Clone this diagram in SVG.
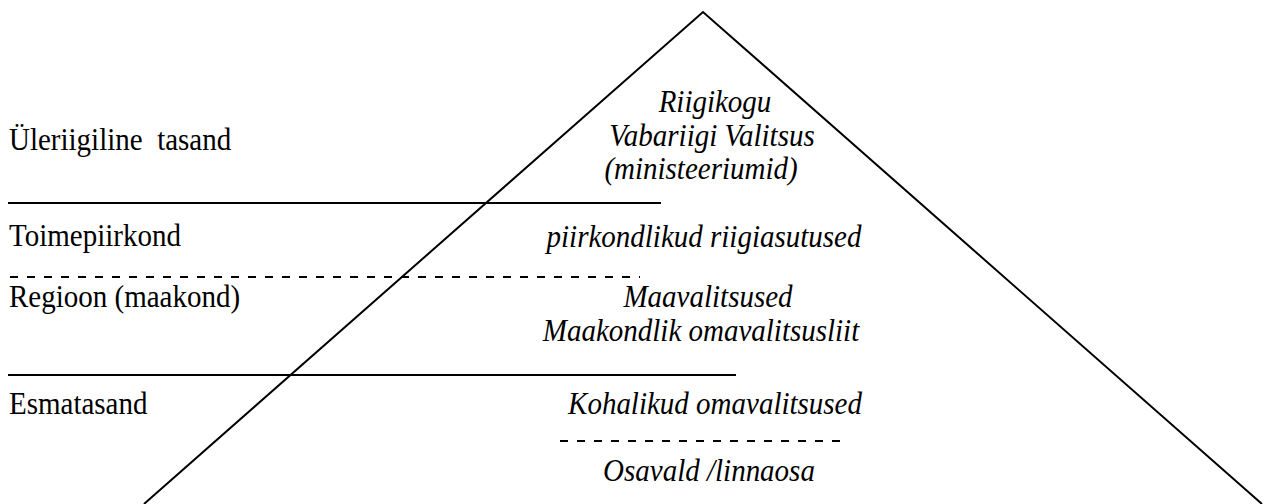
<svg xmlns="http://www.w3.org/2000/svg" width="1272" height="504" viewBox="0 0 1272 504">
<style>
.t{font-family:"Liberation Serif","Times New Roman",serif;font-size:29px;fill:#000}
.i{font-style:italic;text-anchor:middle}
.s{stroke:#000;stroke-width:2;fill:none}
.d{stroke:#000;stroke-width:2;fill:none;stroke-dasharray:8 9}
</style>
<rect width="1272" height="504" fill="#fff"/>
<g id="pyramid">
<polyline class="s" points="144,504 703,12 1262,504" stroke-width="1.8"/>
</g>
<g id="connectors">
<line class="s" x1="8" y1="203" x2="661" y2="203"/>
<line class="d" x1="10" y1="277" x2="640" y2="277"/>
<line class="s" x1="8" y1="375" x2="736" y2="375"/>
<line class="d" x1="560" y1="441" x2="845" y2="441"/>
</g>
<g id="levels">
<text class="t" transform="translate(9,150) scale(1,1.08)" xml:space="preserve">Üleriigiline  tasand</text>
<text class="t" transform="translate(9,246) scale(1,1.08)">Toimepiirkond</text>
<text class="t" transform="translate(9,307) scale(1,1.08)">Regioon (maakond)</text>
<text class="t" transform="translate(9,414) scale(1,1.08)">Esmatasand</text>
</g>
<g id="national">
<text class="t i" transform="translate(715,112) scale(1,1.08)">Riigikogu</text>
<text class="t i" transform="translate(712,146) scale(1,1.08)">Vabariigi Valitsus</text>
<text class="t i" transform="translate(701,179) scale(1,1.08)">(ministeeriumid)</text>
</g>
<g id="district">
<text class="t i" transform="translate(704,247) scale(1,1.08)">piirkondlikud riigiasutused</text>
</g>
<g id="region">
<text class="t i" transform="translate(708,307) scale(1,1.08)">Maavalitsused</text>
<text class="t i" transform="translate(701,341) scale(1,1.08)">Maakondlik omavalitsusliit</text>
</g>
<g id="local">
<text class="t i" transform="translate(715,414) scale(1,1.08)">Kohalikud omavalitsused</text>
<text class="t i" transform="translate(709,481) scale(1,1.08)">Osavald /linnaosa</text>
</g>
</svg>
